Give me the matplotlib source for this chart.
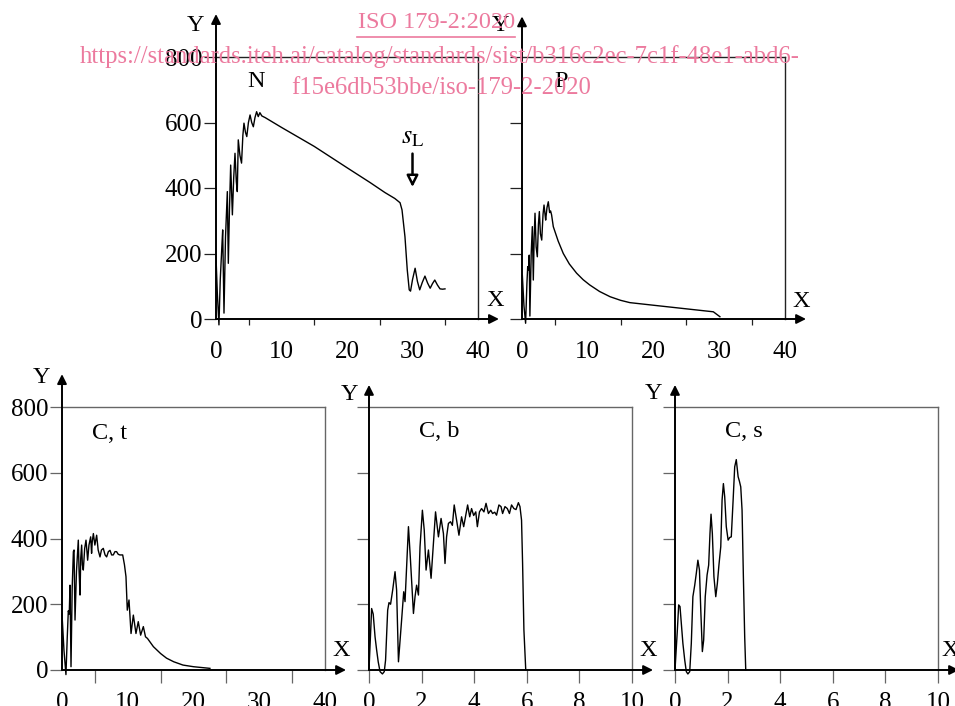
import matplotlib
matplotlib.use('Agg')
from matplotlib import pyplot as plt
from matplotlib.lines import Line2D

plt.rcParams['font.family'] = ['Liberation Serif', 'DejaVu Serif']
plt.rcParams['mathtext.fontset'] = 'stix'

# N curve
n_x = [0, 0.2, 0.45, 0.65, 0.87, 1.02, 1.22, 1.45, 1.73, 1.88, 2.05, 2.24, 2.5, 2.7, 2.9,
       3.1, 3.25, 3.4, 3.65, 3.9, 4.1, 4.27, 4.5, 4.7, 4.95, 5.2, 5.45, 5.7, 5.95, 6.2,
       6.45, 6.7, 7.0, 7.5, 10, 15, 20, 23.5, 25.8, 27.3, 28.1, 28.4, 28.85, 29.2, 29.5, 29.7,
       30.0, 30.4, 30.75, 31.1, 31.5, 31.9, 32.3, 32.7, 33.05, 33.4, 33.8, 34.2, 34.6, 34.96]
n_y = [190, 80, -18, 120, 211, 272, 18, 250, 389, 170, 330, 470, 318, 430, 506,
       420, 389, 547, 500, 476, 560, 598, 570, 557, 600, 623, 600, 587, 615, 633,
       618, 630, 620, 615, 585, 527, 462, 417, 386, 368, 355, 333, 251, 150, 89, 85,
       120, 155, 115, 89, 112, 131, 110, 94, 108, 119, 104, 92, 91, 92]

# P curve
p_x = [0.05, 0.3, 0.55, 0.75, 0.87, 1.0, 1.1, 1.2, 1.4, 1.57, 1.72, 1.85, 1.98, 2.15, 2.33,
       2.5, 2.64, 2.8, 3.0, 3.2, 3.35, 3.5, 3.6, 3.8, 4.0, 4.2, 4.35, 4.5, 4.76, 5.5,
       6.28, 7.2, 8.3, 9.3, 10.3, 11.8, 13.4, 15.0, 16.4, 20, 25, 29.1, 30.1]
p_y = [134, 40, -13, 110, 160, 150, 195, 9, 200, 282, 119, 250, 323, 220, 190,
       290, 328, 260, 241, 320, 348, 320, 302, 340, 358, 325, 330, 318, 282, 238,
       200, 168, 140, 120, 104, 84, 68, 57, 50, 42, 31, 22, 7]

# C, t curve
ct_x = [0, 0.3, 0.6, 0.8, 0.96, 1.1, 1.22, 1.37, 1.55, 1.73, 1.83, 1.98, 2.2, 2.48, 2.6,
        2.74, 2.85, 2.99, 3.1, 3.24, 3.45, 3.65, 3.8, 3.9, 4.1, 4.36, 4.5, 4.6, 4.77, 5.0,
        5.27, 5.5, 5.78, 6.0, 6.28, 6.55, 6.79, 7.05, 7.3, 7.55, 7.8, 8.05, 8.3, 8.55, 8.8,
        9.23, 9.5, 9.73, 9.93, 10.19, 10.5, 10.85, 11.25, 11.6, 11.96, 12.37, 12.7, 13.0,
        13.9, 15.0, 15.9, 17.0, 18.4, 20.0, 21.0, 22.5]
ct_y = [170, 60, -14, 100, 180, 170, 258, 10, 250, 360, 365, 152, 300, 395, 300,
        228, 340, 380, 320, 304, 370, 395, 360, 334, 380, 405, 355, 390, 415, 380,
        410, 365, 344, 365, 370, 350, 344, 360, 364, 350, 350, 360, 360, 352, 350,
        350, 320, 284, 182, 213, 111, 167, 111, 147, 106, 132, 101, 96,
        71, 50, 36, 25, 15, 10, 8, 5]

# C, b curve
cb_x = [0, 0.1, 0.16, 0.23, 0.29, 0.35, 0.42, 0.51, 0.58, 0.63, 0.71, 0.76, 0.82, 0.9, 0.99,
        1.05, 1.12, 1.24, 1.32, 1.37, 1.5, 1.57, 1.69, 1.75, 1.81, 1.88, 1.94, 2.03, 2.1,
        2.17, 2.26, 2.36, 2.53, 2.64, 2.74, 2.83, 2.89, 2.95, 3.02, 3.1, 3.17, 3.24, 3.33,
        3.42, 3.52, 3.6, 3.75, 3.83, 3.9, 3.98, 4.06, 4.12, 4.2, 4.28, 4.37, 4.45, 4.54,
        4.63, 4.7, 4.78, 4.85, 4.94, 5.02, 5.08, 5.17, 5.26, 5.34, 5.42, 5.51, 5.59, 5.68,
        5.74, 5.8, 5.84, 5.89, 5.96]
cb_y = [0, 187, 170, 101, 61, 25, -5, -12, -5, 30, 182, 205, 200, 243, 299,
        243, 25, 152, 238, 208, 436, 344, 172, 223, 258, 228, 375, 486, 426,
        304, 365, 279, 481, 405, 461, 415, 324, 405, 446, 451, 440, 502, 456,
        410, 466, 436, 502, 466, 491, 470, 481, 436, 481, 491, 481, 507, 476,
        486, 476, 480, 471, 502, 497, 476, 497, 491, 476, 502, 491, 488, 509,
        497, 456, 324, 122, 0]

# C, s curve
cs_x = [0, 0.09, 0.14, 0.19, 0.24, 0.3, 0.37, 0.43, 0.49, 0.56, 0.62, 0.68, 0.75, 0.81, 0.87,
        0.93, 0.98, 1.04, 1.09, 1.15, 1.22, 1.28, 1.33, 1.37, 1.42, 1.48, 1.55, 1.61, 1.67,
        1.74, 1.79, 1.84, 1.89, 1.95, 2.02, 2.08, 2.14, 2.21, 2.27, 2.33, 2.4, 2.45, 2.5,
        2.55, 2.6, 2.65, 2.69]
cs_y = [0, 122, 198, 193, 142, 81, 30, -5, -12, -5, 81, 223, 258, 294, 334,
        304, 182, 56, 91, 223, 289, 319, 415, 474, 415, 284, 223, 263, 319,
        375, 517, 567, 527, 436, 395, 403, 405, 517, 618, 640, 588, 574, 557,
        486, 284, 101, 0]

y_ticks = [0, 200, 400, 600, 800]
pink = '#EC7A9E'

fig = plt.figure(figsize=(9.55, 7.06), dpi=100)


def panel(rect, xs, ys, xmax, xstep, minor, ylab, name, name_xy, ytip, y_lab_pos, x_lab_pos, frame):
    ax = fig.add_axes(rect)
    ax.plot(xs, ys, color='black', lw=1.0, clip_on=False, zorder=3)
    ax.set_xlim(0, xmax)
    ax.set_ylim(0, 800)
    ax.spines['left'].set_visible(False)
    ax.spines['bottom'].set_visible(False)
    for s in ['top', 'right']:
        ax.spines[s].set_color(frame)
        ax.spines[s].set_linewidth(1.0)
    ax.set_yticks(y_ticks)
    ax.tick_params(axis='y', direction='out', length=9, width=0.9, color=frame,
                   pad=1, labelsize=18, labelleft=ylab)
    ax.set_xticks(list(range(0, xmax + 1, xstep)))
    if minor:
        ax.set_xticks([m + xstep / 2 for m in range(0, xmax, xstep)], minor=True)
        ax.tick_params(axis='x', which='major', length=0, pad=16, labelsize=18)
        ax.tick_params(axis='x', which='minor', direction='out', length=minor,
                       width=0.9, color=frame)
    else:
        ax.tick_params(axis='x', which='major', direction='out', length=9, width=0.9,
                       color=frame, pad=7, labelsize=18)
    # axes drawn as arrows
    ax.annotate('', xy=(0, ytip), xytext=(0, 0), xycoords='axes fraction',
                arrowprops=dict(arrowstyle='-|>', color='black', lw=1.4, mutation_scale=14,
                                shrinkA=0, shrinkB=0), annotation_clip=False)
    ax.annotate('', xy=(1.08, 0), xytext=(0, 0), xycoords='axes fraction',
                arrowprops=dict(arrowstyle='-|>', color='black', lw=1.4, mutation_scale=14,
                                shrinkA=0, shrinkB=0), annotation_clip=False)
    ax.text(y_lab_pos[0], y_lab_pos[1], 'Y', transform=ax.transAxes, ha='center',
            va='center', fontsize=17.5)
    ax.text(x_lab_pos[0], x_lab_pos[1], 'X', transform=ax.transAxes, ha='center',
            va='center', fontsize=17.5)
    ax.text(name_xy[0], name_xy[1], name, ha='center', va='center', fontsize=17.5)
    return ax


ax_n = panel([216 / 955, 387 / 706, 262 / 955, 262 / 706], n_x, n_y, 40, 10, 4.5, True,
             'N', (6.1, 724), 1.164, (-0.08, 1.122), (1.065, 0.072), '#222222')
panel([522 / 955, 387 / 706, 263 / 955, 262 / 706], p_x, p_y, 40, 10, 4.5, False,
      'P', (6.0, 724), 1.155, (-0.081, 1.122), (1.06, 0.066), '#222222')
panel([62 / 955, 36 / 706, 263 / 955, 263 / 706], ct_x, ct_y, 40, 10, 9, True,
      'C, t', (7.3, 720), 1.125, (-0.077, 1.114), (1.061, 0.076), '#666666')
panel([369 / 955, 36 / 706, 263 / 955, 263 / 706], cb_x, cb_y, 10, 2, 0, False,
      'C, b', (2.67, 724), 1.084, (-0.076, 1.046), (1.062, 0.076), '#666666')
panel([675 / 955, 36 / 706, 263 / 955, 263 / 706], cs_x, cs_y, 10, 2, 0, False,
      'C, s', (2.62, 724), 1.084, (-0.08, 1.053), (1.046, 0.076), '#666666')

# s_L marker
ax_n.annotate('', xy=(30, 403), xytext=(30, 505),
              arrowprops=dict(arrowstyle='-|>', fc='white', ec='black', lw=1.8,
                              mutation_scale=17, shrinkA=0, shrinkB=0))
ax_n.text(30.1, 552, r'$s_{\mathrm{L}}$', ha='center', va='center', fontsize=19)

# watermark
fig.text(437 / 955, 1 - 22 / 706, 'ISO 179-2:2020', ha='center', va='center',
         color=pink, fontsize=17.5, zorder=10)
fig.add_artist(Line2D([357 / 955, 515 / 955], [1 - 37 / 706, 1 - 37 / 706],
                      color=pink, lw=1.2, zorder=10))
fig.text(440 / 955, 1 - 57 / 706,
         'https://standards.iteh.ai/catalog/standards/sist/b316c2ec-7c1f-48e1-abd6-',
         ha='center', va='center', color=pink, fontsize=17.7, zorder=10)
fig.text(441 / 955, 1 - 88 / 706, 'f15e6db53bbe/iso-179-2-2020', ha='center',
         va='center', color=pink, fontsize=17.7, zorder=10)

fig.savefig('out.png', dpi=100)
